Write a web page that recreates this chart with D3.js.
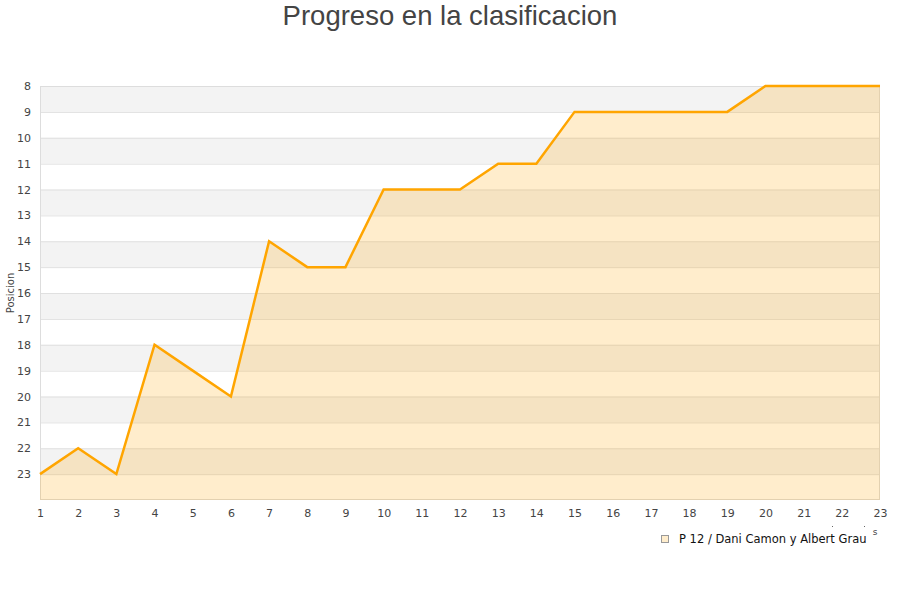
<!DOCTYPE html>
<html><head><meta charset="utf-8">
<script src="https://cdn.jsdelivr.net/npm/d3@7"></script>
<style>body{margin:0;background:#fff}svg{display:block}</style>
</head><body><svg id="c" width="900" height="600"></svg>
<script>
const jornadas = [1,2,3,4,5,6,7,8,9,10,11,12,13,14,15,16,17,18,19,20,21,22,23];
const posiciones = [23,22,23,18,19,20,14,15,15,12,12,12,11,11,9,9,9,9,9,8,8,8,8];
const yTicks = [8,9,10,11,12,13,14,15,16,17,18,19,20,21,22,23];
const seriesName = "P 12 / Dani Camon y Albert Grau";
const title = "Progreso en la clasificacion";

const svg = d3.select("#c");
const L=40,R=880,T=86,B=500;
const x = d3.scaleLinear().domain([1,23]).range([L,R]);
const y = d3.scaleLinear().domain([8,24]).range([T,B]);

// bands
d3.range(8,24).forEach((v,i)=>{
  svg.append("rect").attr("x",L).attr("width",R-L).attr("y",y(v)).attr("height",y(v+1)-y(v))
    .attr("fill", i%2===0 ? "#f3f3f3" : "#ffffff");
});
// gridlines
d3.range(9,24).forEach(v=>{
  svg.append("line").attr("x1",L).attr("x2",R).attr("y1",y(v)+0.5).attr("y2",y(v)+0.5)
    .attr("stroke","#e0e0e0").attr("stroke-width",1);
});
// border
svg.append("rect").attr("x",L+0.5).attr("y",T+0.5).attr("width",R-L-1).attr("height",B-T-1)
  .attr("fill","none").attr("stroke","#dddddd");

const data = jornadas.map((j,i)=>({j, p:posiciones[i]}));
svg.append("path").datum(data)
  .attr("d", d3.area().x(d=>x(d.j)).y0(y(24)).y1(d=>y(d.p)))
  .attr("fill","#ffa500").attr("fill-opacity",0.2);
svg.append("path").datum(data)
  .attr("d", d3.line().x(d=>x(d.j)).y(d=>y(d.p)))
  .attr("fill","none").attr("stroke","#ffa500").attr("stroke-width",2.5).attr("stroke-linejoin","miter");

// y axis labels
const yAxis = d3.axisLeft(y).tickValues(yTicks).tickSize(0).tickPadding(9);
const gy = svg.append("g").attr("transform",`translate(${L},0)`).call(yAxis);
gy.select(".domain").remove();
gy.selectAll("text").attr("font-family","DejaVu Sans").attr("font-size",11).attr("fill","#444");

// x axis labels
const xAxis = d3.axisBottom(x).tickValues(jornadas).tickSize(0).tickPadding(9);
const gx = svg.append("g").attr("transform",`translate(0,${B})`).call(xAxis);
gx.select(".domain").remove();
gx.selectAll("text").attr("font-family","DejaVu Sans").attr("font-size",11).attr("fill","#444");

// title
svg.append("text").attr("x",450).attr("y",25).attr("text-anchor","middle")
  .attr("font-family","Liberation Sans, Arial, sans-serif").attr("font-size",27.5).attr("fill","#444").text(title);

// y title
svg.append("text").attr("transform","translate(14,293) rotate(-90)").attr("text-anchor","middle")
  .attr("font-family","DejaVu Sans").attr("font-size",10).attr("fill","#444").text("Posicion");

// stray x title fragment
svg.append("text").attr("x",875).attr("y",535).attr("text-anchor","middle")
  .attr("font-family","DejaVu Sans").attr("font-size",9).attr("fill","#444").text("s");
[832,864].forEach(px=>svg.append("rect").attr("x",px).attr("y",526).attr("width",1).attr("height",1).attr("fill","#666"));

// legend
svg.append("rect").attr("x",661.5).attr("y",535.5).attr("width",7).attr("height",7)
  .attr("fill","#ffedcc").attr("stroke","#999");
svg.append("text").attr("x",679).attr("y",543).attr("font-family","DejaVu Sans").attr("font-size",11.5)
  .attr("fill","#111").text(seriesName);
</script></body></html>
